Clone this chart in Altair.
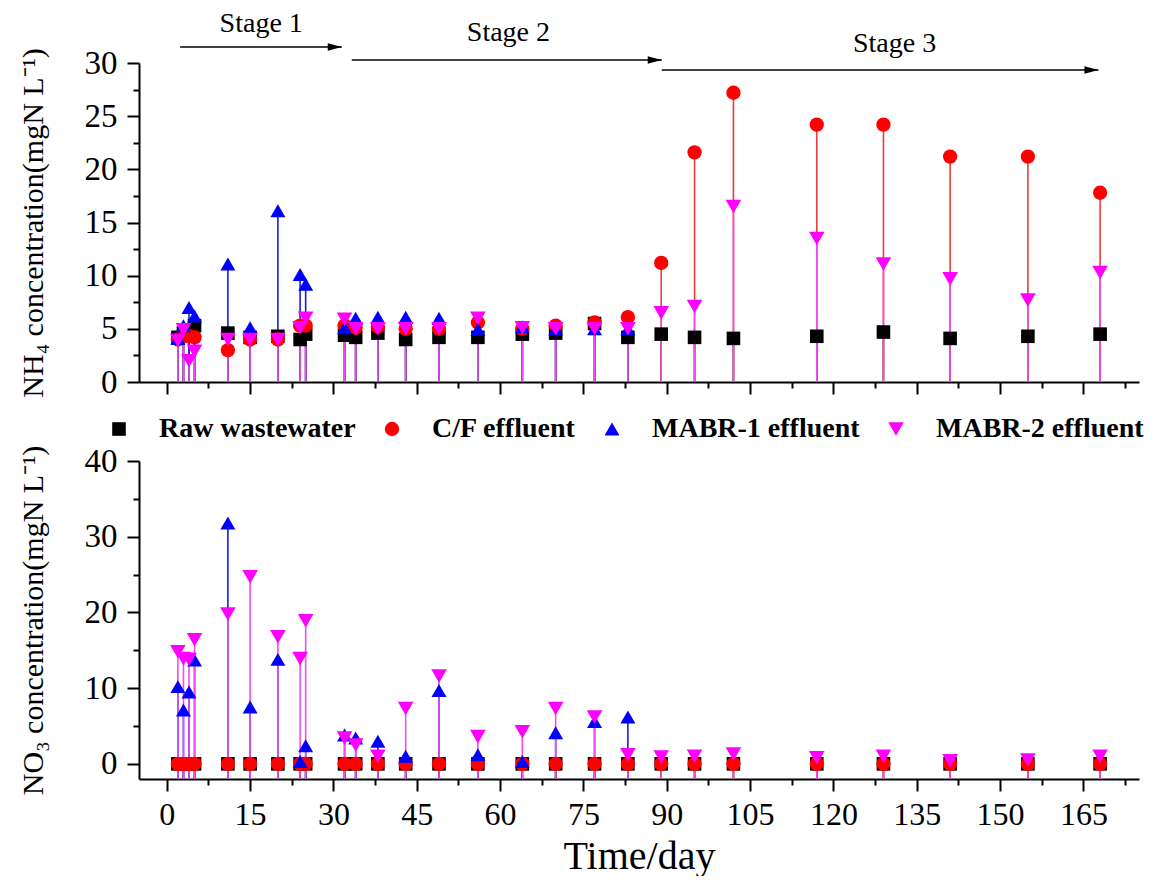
import altair as alt
import pandas as pd

# ---------------- data ----------------
days = [2, 3, 4, 5, 11, 15, 20, 24, 25, 32, 34, 38, 43, 49, 56, 64, 70, 77, 83,
        89, 95, 102, 117, 129, 141, 155, 168]

series_names = ["Raw wastewater", "C/F effluent", "MABR-1 effluent", "MABR-2 effluent"]

nh4_raw = [4.2, 4.6, 4.7, 5.3, 4.6, 4.2, 4.3, 4.0, 4.5, 4.4, 4.2, 4.6, 4.0, 4.2, 4.2, 4.5, 4.6, 5.5, 4.2,
           4.5, 4.2, 4.1, 4.3, 4.7, 4.1, 4.3, 4.5]
nh4_cf = [4.0, 4.3, 4.3, 4.2, 3.0, 4.0, 4.0, 5.3, 5.3, 5.3, 5.1, 5.2, 5.0, 5.0, 5.6, 5.0, 5.3, 5.6, 6.1,
          11.2, 21.6, 27.2, 24.2, 24.2, 21.2, 21.2, 17.8]
nh4_mabr1 = [4.1, 5.3, 7.0, 6.2, 11.1, 5.1, 16.1, 10.1, 9.2, 5.1, 6.0, 6.1, 6.1, 6.0, 4.95, 5.2, 5.0, 5.0, 5.0,
             None, None, None, None, None, None, None, None]
nh4_mabr2 = [3.9, 4.9, 2.0, 2.9, 4.0, 4.0, 4.0, 5.1, 6.0, 5.9, 5.0, 5.0, 5.0, 5.0, 6.0, 5.1, 5.0, 5.0, 5.0,
             6.5, 7.1, 16.5, 13.5, 11.1, 9.7, 7.7, 10.3]

no3_raw = [0.0] * 27
no3_cf = [0.0] * 27
no3_mabr1 = [10.2, 7.1, 9.5, 13.7, 31.8, 7.5, 13.8, 0.3, 2.4, 3.8, 3.4, 3.0, 1.0, 9.7, 1.2, 0.3, 4.1, 5.6, 6.2,
             None, None, None, None, None, None, None, None]
no3_mabr2 = [14.8, 13.9, 13.8, 16.4, 19.8, 24.7, 16.8, 13.9, 18.9, 3.4, 2.5, 1.0, 7.3, 11.6, 3.6, 4.25, 7.3, 6.2, 1.2,
             0.9, 1.0, 1.3, 0.8, 1.0, 0.4, 0.5, 1.0]

stage_labels = ["Stage 1", "Stage 2", "Stage 3"]
stage_start = [2.4, 33.3, 89.1]
stage_end = [31.5, 89.1, 167.7]
stage_label_day = [17.0, 61.5, 131.0]

# ---------------- styles ----------------
marker_colors = ["#000000", "#FF0000", "#0000FF", "#FF00FF"]
line_colors = ["#000000", "#EE3B3B", "#1C1CE0", "#F04CF0"]
shapes = ["square", "circle", "triangle-up", "triangle-down"]
sizes = [185, 245, 340, 340]
FONT = "Liberation Serif"
W = 1000
H_TOP = 319
H_BOT = 318


def make_df(lists, base):
    rows = []
    for name, vals, lc in zip(series_names, lists, line_colors):
        for d, v in zip(days, vals):
            if v is None:
                continue
            rows.append({"day": d, "value": v, "series": name, "lc": lc, "base": base})
    return pd.DataFrame(rows)


xscale = alt.Scale(domain=[-5, 175], nice=False, zero=False)
color_scale = alt.Scale(domain=series_names, range=marker_colors)
shape_scale = alt.Scale(domain=series_names, range=shapes)
size_scale = alt.Scale(domain=series_names, range=sizes)
major_x = list(range(0, 166, 15))
minor_x = [7.5 + 15 * i for i in range(12)]


def panel(df, ydom, ymajor, yminor, ytitle, height, show_xlabels, extra=()):
    yscale = alt.Scale(domain=ydom, nice=False, zero=False)
    rules = alt.Chart(df).mark_rule(strokeWidth=1.6).encode(
        x=alt.X("day:Q", scale=xscale,
                axis=alt.Axis(orient="bottom", values=minor_x, labels=False, tickSize=6,
                              domain=False, grid=False, title=None)),
        y=alt.Y("value:Q", scale=yscale,
                axis=alt.Axis(orient="left", values=yminor, labels=False, tickSize=6,
                              domain=False, grid=False, title=None)),
        y2=alt.Y2("base:Q"),
        color=alt.Color("lc:N", scale=None),
    )
    pts = alt.Chart(df).mark_point(filled=True, opacity=1, strokeWidth=0).encode(
        x=alt.X("day:Q", scale=xscale,
                axis=alt.Axis(orient="bottom", values=major_x, labels=show_xlabels,
                              title="Time/day" if show_xlabels else None, grid=False)),
        y=alt.Y("value:Q", scale=yscale,
                axis=alt.Axis(orient="left", values=ymajor, title=ytitle, grid=False,
                              labelFontSize=33, labelPadding=10, titlePadding=36)),
        color=alt.Color("series:N", scale=color_scale,
                        legend=alt.Legend(title=None, labelLimit=0)),
        shape=alt.Shape("series:N", scale=shape_scale,
                        legend=alt.Legend(title=None, labelLimit=0)),
        size=alt.Size("series:N", scale=size_scale, legend=None),
    )
    return alt.layer(rules, pts, *extra).resolve_axis(
        x="independent", y="independent").properties(width=W, height=height)


# stage annotations (arrows above the top panel)
arrow_y = [-16, -3, 7]
text_y = [-39, -30, -19]
ann_layers = []
for i in range(3):
    sdf = pd.DataFrame({"start": [stage_start[i]], "end": [stage_end[i]],
                        "mid": [stage_label_day[i]], "label": [stage_labels[i]]})
    base = alt.Chart(sdf)
    shaft = base.mark_rule(color="black", strokeWidth=1.5).encode(
        x=alt.X("start:Q", scale=xscale, axis=None), x2="end:Q", y=alt.value(arrow_y[i]))
    head = base.mark_point(shape="M-2,-0.55L0,0L-2,0.55Z", filled=True, color="black",
                           opacity=1, size=196, strokeWidth=0).encode(
        x=alt.X("end:Q", scale=xscale, axis=None), y=alt.value(arrow_y[i]))
    txt = base.mark_text(font=FONT, fontSize=28, color="black", baseline="middle").encode(
        x=alt.X("mid:Q", scale=xscale, axis=None), y=alt.value(text_y[i]), text="label:N")
    ann_layers += [shaft, head, txt]

top_df = make_df([nh4_raw, nh4_cf, nh4_mabr1, nh4_mabr2], 0)
bot_df = make_df([no3_raw, no3_cf, no3_mabr1, no3_mabr2], -2)

top = panel(top_df, [0, 30], list(range(0, 31, 5)), [2.5 + 5 * i for i in range(6)],
            "NH₄ concentration(mgN L⁻¹)", H_TOP, False, ann_layers)
bot = panel(bot_df, [-2, 40], list(range(0, 41, 10)), [5 + 10 * i for i in range(4)],
            "NO₃ concentration(mgN L⁻¹)", H_BOT, True)

chart = alt.vconcat(top, bot, spacing=79, bounds="flush").properties(
    padding={"left": 10, "top": 2, "right": 0, "bottom": 0}
).configure(font=FONT).configure_view(stroke=None).configure_axis(
    domainColor="black", domainWidth=2, tickColor="black", tickWidth=2, tickSize=12,
    labelFont=FONT, labelFontSize=32, labelColor="black", labelPadding=8,
    titleFont=FONT, titleFontSize=30, titleFontWeight="normal", titleColor="black",
    titlePadding=22,
).configure_axisBottom(titleFontSize=40, titlePadding=6).configure_legend(
    orient="none", legendX=-34, legendY=352, direction="horizontal", columns=4,
    labelFont=FONT, labelFontSize=28, labelFontWeight="bold", labelColor="black",
    symbolSize=150, labelOffset=26, columnPadding=22, padding=0, symbolStrokeWidth=0,
    labelLimit=0,
)

chart.save("out.html", embed_options={"renderer": "svg", "actions": False})
